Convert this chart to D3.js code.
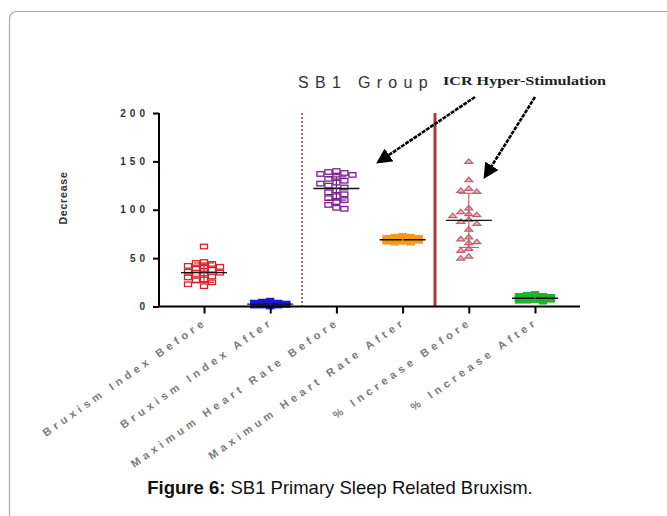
<!DOCTYPE html>
<html>
<head>
<meta charset="utf-8">
<script src="https://cdn.jsdelivr.net/npm/d3@7"></script>
<style>
  body { margin: 0; background: #fff; }
  svg { display: block; }
  .tickLabel { font-family: Arial, "Liberation Sans", sans-serif; font-size: 10px; font-weight: bold; fill: #333; letter-spacing: 4px; }
  .catLabel { font-family: Arial, "Liberation Sans", sans-serif; font-size: 11px; font-weight: bold; fill: #7a7a7a; letter-spacing: 4.2px; }
</style>
</head>
<body>
<svg width="667" height="516"></svg>
<script>
//## DATA ##
const categories = ['Bruxism Index Before', 'Bruxism Index After', 'Maximum Heart Rate Before', 'Maximum Heart Rate After', '% Increase Before', '% Increase After']
const bruxismBefore = [62, 46, 45, 44, 42, 41, 40, 39, 38, 37, 36, 35, 35, 34, 33, 31, 30, 28, 27, 25, 23, 21]
const bruxismAfter = [1, 2, 3, 2, 1, 4, 3, 2, 5, 1, 2, 3, 0, 2, 4, 1, 3, 2, 6, 3]
const heartBefore = [140, 139, 138, 137, 136, 134, 132, 130, 128, 127, 125, 123, 120, 118, 116, 114, 112, 110, 108, 105, 102, 101]
const heartAfter = [66, 67, 68, 68, 69, 69, 70, 70, 71, 72, 67, 68, 69, 70, 71, 68, 69, 70, 72, 66, 73, 67]
const increaseBefore = [150, 131, 122, 120, 119, 102, 98, 96, 95, 94, 90, 88, 86, 80, 72, 70, 67, 66, 60, 58, 52, 50]
const increaseAfter = [5, 6, 7, 8, 9, 10, 11, 12, 6, 7, 8, 9, 10, 7, 8, 9, 6, 11, 8, 13, 10, 7]
const means = [35, 2.5, 122, 69, 89, 8.5]
const sds = [10, 1.5, 12, 2, 28, 2.5]
const yTicks = [0, 50, 100, 150, 200]
const seriesValues = [bruxismBefore, bruxismAfter, heartBefore, heartAfter, increaseBefore, increaseAfter]
const colors = ['#d8202a', '#1a1ad0', '#7a1f8c', '#f29a1c', '#c0606e', '#22b22a']
const shapes = ['square', 'fill', 'square', 'fill', 'triangle', 'fill']

//## SETUP ##
const svg = d3.select('svg')
const x0 = 159, x1 = 580, yBottom = 306.5, yTop = 113

const scaleY = d3.scaleLinear().domain([0, 200]).range([yBottom, yTop])
const scaleX = d3.scalePoint().domain(categories).range([x0, x1]).padding(0.68)

// frame
svg.append('rect')
  .attr('x', 9.5).attr('y', 11.5).attr('width', 720).attr('height', 620).attr('rx', 7)
  .attr('fill', 'none').attr('stroke', '#a8a8a8').attr('stroke-width', 1.2)

const g = svg.append('g')

// separators
g.append('line')
  .attr('x1', 302).attr('x2', 302).attr('y1', yTop).attr('y2', yBottom)
  .attr('stroke', '#a0483c').attr('stroke-width', 1.6).attr('stroke-dasharray', '2,2')
g.append('line')
  .attr('x1', 435).attr('x2', 435).attr('y1', yTop).attr('y2', yBottom)
  .attr('stroke', '#a8383c').attr('stroke-width', 3)

// scatter placement: least crowded slot within the column width
const swarm = function(values, w, h, half){
  const pts = values.map(v => ({ v: v, py: scaleY(v) })).sort((a, b) => a.py - b.py)
  const placed = []
  pts.forEach(p => {
    let best = 0, bestScore = Infinity
    for (let off = -half; off <= half; off += 2) {
      const hits = placed.filter(q => Math.abs(q.dx - off) < w && Math.abs(q.py - p.py) < h).length
      const score = hits + Math.abs(off) * 0.02
      if (score < bestScore) { bestScore = score; best = off }
    }
    p.dx = best
    placed.push(p)
  })
  return placed
}

const mw = 7, mh = 4.5
seriesValues.forEach((vals, i) => {
  const cx = scaleX(categories[i])
  const pts = swarm(vals, mw + 1, mh + 0.5, 18)
  const grp = g.append('g')
  if (shapes[i] === 'triangle') {
    grp.selectAll('path').data(pts).enter().append('path')
      .attr('d', d => {
        const px = cx + d.dx, py = d.py
        return 'M' + (px - 4) + ',' + (py + 2) + 'L' + px + ',' + (py - 2.5) + 'L' + (px + 4) + ',' + (py + 2) + 'Z'
      })
      .attr('fill', '#e8b0b8').attr('stroke', colors[i]).attr('stroke-width', 1.2)
  } else {
    grp.selectAll('rect').data(pts).enter().append('rect')
      .attr('x', d => cx + d.dx - mw / 2)
      .attr('y', d => d.py - mh / 2)
      .attr('width', mw).attr('height', mh)
      .attr('fill', shapes[i] === 'fill' ? colors[i] : 'rgba(255,255,255,0.6)')
      .attr('stroke', colors[i]).attr('stroke-width', 1.3)
  }

  // mean and SD bars
  const m = means[i], s = sds[i]
  g.append('line')
    .attr('x1', cx - 23).attr('x2', cx + 23).attr('y1', scaleY(m)).attr('y2', scaleY(m))
    .attr('stroke', '#111').attr('stroke-width', 1.4)
  g.append('line')
    .attr('x1', cx).attr('x2', cx).attr('y1', scaleY(m + s)).attr('y2', scaleY(Math.max(0, m - s)))
    .attr('stroke', colors[i]).attr('stroke-width', 1.2)
  ;[m + s, Math.max(0, m - s)].forEach(v => {
    g.append('line')
      .attr('x1', cx - 10).attr('x2', cx + 10).attr('y1', scaleY(v)).attr('y2', scaleY(v))
      .attr('stroke', colors[i]).attr('stroke-width', 1.2)
  })
})

// axes
const yAxisGroup = g.append('g')
  .attr('transform', 'translate(' + x0 + ',0)')
  .call(d3.axisLeft(scaleY).tickValues(yTicks).tickSize(6).tickFormat(''))
yAxisGroup.selectAll('path, line').attr('stroke', '#000').attr('stroke-width', 2)
yAxisGroup.select('.domain').attr('d', 'M0,' + yTop + 'V' + yBottom)

g.selectAll('.tickLabel').data(yTicks).enter().append('text')
  .attr('class', 'tickLabel')
  .attr('x', 149).attr('y', d => scaleY(d) + 3.5)
  .attr('text-anchor', 'end')
  .text(d => d)

const xAxisGroup = g.append('g')
  .attr('transform', 'translate(0,' + yBottom + ')')
  .call(d3.axisBottom(scaleX).tickSize(7).tickFormat(''))
xAxisGroup.selectAll('path, line').attr('stroke', '#000').attr('stroke-width', 2)
xAxisGroup.select('.domain').attr('d', 'M' + x0 + ',0H' + x1)

g.selectAll('.catLabel').data(categories).enter().append('text')
  .attr('class', 'catLabel')
  .attr('text-anchor', 'end')
  .attr('transform', d => 'translate(' + (scaleX(d) + 4) + ',' + (yBottom + 17) + ') rotate(-35)')
  .text(d => d)

// titles
g.append('text')
  .attr('x', 298).attr('y', 88)
  .style('font-family', 'Arial, "Liberation Sans", sans-serif').style('font-size', '16px')
  .style('letter-spacing', '6.3px').style('fill', '#333')
  .text('SB1 Group')

g.append('text')
  .attr('transform', 'translate(67,198) rotate(-90)')
  .attr('text-anchor', 'middle')
  .style('font-family', 'Arial, "Liberation Sans", sans-serif').style('font-size', '10.5px')
  .style('font-weight', 'bold').style('letter-spacing', '0.8px').style('fill', '#333')
  .text('Decrease')

g.append('text')
  .attr('x', 443).attr('y', 85)
  .attr('textLength', 163).attr('lengthAdjust', 'spacingAndGlyphs')
  .style('font-family', '"Liberation Serif", "Times New Roman", serif').style('font-size', '12px')
  .style('font-weight', 'bold').style('fill', '#222')
  .text('ICR Hyper-Stimulation')

// arrows
svg.append('defs').append('marker')
  .attr('id', 'head').attr('viewBox', '0 0 10 10').attr('refX', 7).attr('refY', 5)
  .attr('markerWidth', 6).attr('markerHeight', 6).attr('orient', 'auto')
  .append('path').attr('d', 'M0,0L10,5L0,10Z').attr('fill', '#000')

const arrows = [[475, 97, 380, 161], [535, 97, 486, 175]]
g.selectAll('.arrow').data(arrows).enter().append('line')
  .attr('class', 'arrow')
  .attr('x1', d => d[0]).attr('y1', d => d[1]).attr('x2', d => d[2]).attr('y2', d => d[3])
  .attr('stroke', '#000').attr('stroke-width', 2.6).attr('stroke-dasharray', '4,1')
  .attr('marker-end', 'url(#head)')

// caption
const caption = svg.append('text')
  .attr('x', 340).attr('y', 494).attr('text-anchor', 'middle')
  .style('font-family', 'Arial, "Liberation Sans", sans-serif').style('font-size', '18.5px').style('fill', '#111')
caption.append('tspan').style('font-weight', 'bold').text('Figure 6:')
caption.append('tspan').text(' SB1 Primary Sleep Related Bruxism.')
</script>
</body>
</html>
